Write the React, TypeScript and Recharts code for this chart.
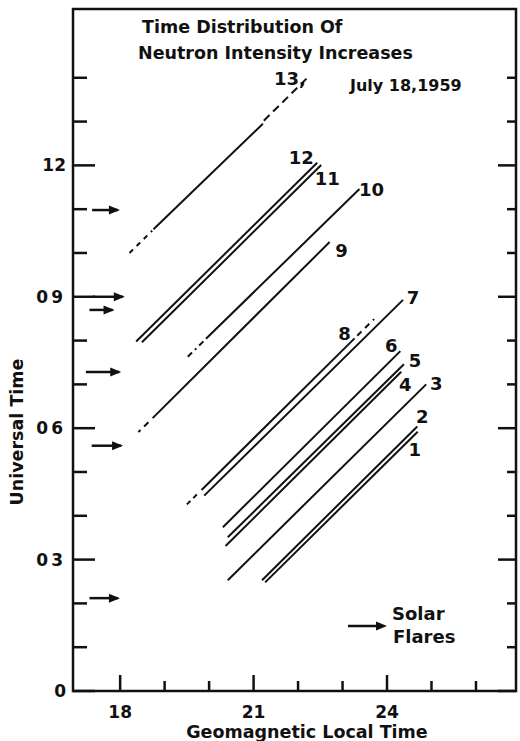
import React from 'react'
import { LineChart, Line, XAxis, YAxis, ReferenceArea } from 'recharts'

// Time distribution of neutron intensity increases, July 18, 1959.
// Each station is a line of slope 1 (UT vs geomagnetic local time),
// dashed where the onset/end is uncertain. Arrows mark solar flares.

const FONT = '"DejaVu Sans", Verdana, sans-serif'
const INK = '#111'

// solid part of each station line (local time, universal time)
const STATION_LABELS = ['1', '2', '3', '4', '5', '6', '7', '8', '9', '10', '11', '12', '13,']
const START_LT = [21.26, 21.19, 20.42, 20.37, 20.42, 20.31, 19.89, 19.83, 18.73, 19.93, 18.49, 18.36, 18.75]
const START_UT = [2.48, 2.53, 2.53, 3.31, 3.51, 3.74, 4.46, 4.59, 6.23, 8.04, 7.96, 7.98, 10.54]
const END_LT = [24.69, 24.68, 24.88, 24.32, 24.38, 24.3, 24.36, 23.27, 22.71, 23.38, 22.52, 22.43, 21.21]
const END_UT = [5.92, 6.04, 7.0, 7.29, 7.46, 7.76, 8.93, 8.05, 10.25, 11.46, 12.01, 12.06, 12.95]

// dashed (uncertain) extensions
const DASH_FROM_LT = [19.5, 23.33, 18.41, 19.52, 18.21, 21.23]
const DASH_FROM_UT = [4.26, 8.11, 5.91, 7.63, 10.0, 13.02]
const DASH_TO_LT = [19.78, 23.71, 18.68, 19.9, 18.72, 22.26]
const DASH_TO_UT = [4.54, 8.49, 6.18, 8.01, 10.51, 14.05]

// solar flares
const FLARE_UT = [10.98, 9.0, 8.7, 7.28, 5.6, 2.12]
const FLARE_TAIL_LT = [17.37, 17.38, 17.31, 17.23, 17.36, 17.31]
const FLARE_TIP_LT = [17.95, 18.06, 17.83, 17.98, 18.02, 17.95]

const X_TICKS = [18, 19, 20, 21, 22, 23, 24, 25, 26]
const X_MAJOR = [18, 21, 24]
const Y_TICKS = [0, 1, 2, 3, 4, 5, 6, 7, 8, 9, 10, 11, 12, 13, 14]
const Y_TICK_LABELS: Record<number, string> = { 0: '0', 3: '03', 6: '06', 9: '09', 12: '12' }

const X_DOMAIN: [number, number] = [16.94, 26.9]
const Y_DOMAIN: [number, number] = [0, 15.57]

// label placement relative to the end of the solid line (px)
const LABEL_OFFSET: [number, number][] = [
  [-3, 17], [5, -10], [10, -1], [4, 12], [11, -4], [-9, -6], [10, -3],
  [-10, -5], [12, 8], [12, 0], [6, 13], [-16, -6], [27, -46],
]
const DASH_PATTERN = ['5 4', '6 5', '3 5 6 4', '6 4 2 4', '5 5', '8 5']

const textStyle = { fontFamily: FONT, fontWeight: 700, fill: INK }

const XTick = (props: any) => {
  const { x, y, payload } = props
  const major = X_MAJOR.includes(payload.value)
  return (
    <g>
      <line x1={x} x2={x} y1={y} y2={y - (major ? 16 : 10)} stroke={INK} strokeWidth={2.5} />
      {major && (
        <text x={x} y={y + 27} textAnchor="middle" fontSize={17} style={textStyle}>
          {payload.value}
        </text>
      )}
    </g>
  )
}

const YTickLeft = (props: any) => {
  const { x, y, payload } = props
  const label = Y_TICK_LABELS[payload.value]
  return (
    <g>
      <line x1={x} x2={x + (label ? 22 : 14)} y1={y} y2={y} stroke={INK} strokeWidth={2.5} />
      {label && (
        <text x={x - 7} y={y + 6} textAnchor="end" fontSize={17} letterSpacing={label.length > 1 && label[0] === '0' ? 3 : 0} style={textStyle}>
          {label}
        </text>
      )}
    </g>
  )
}

const YTickRight = (props: any) => {
  const { x, y, payload } = props
  const major = Y_TICK_LABELS[payload.value] !== undefined
  return <line x1={x} x2={x - (major ? 18 : 9)} y1={y} y2={y} stroke={INK} strokeWidth={2.5} />
}

const arrowDot = (p: any) =>
  p.index === 1 ? (
    <path key={p.key} d={`M${p.cx + 2},${p.cy} L${p.cx - 9},${p.cy - 4.5} L${p.cx - 9},${p.cy + 4.5} Z`} fill={INK} />
  ) : (
    <g key={p.key} />
  )

const labelDot = (i: number) => (p: any) =>
  p.index === 1 ? (
    <text
      key={p.key}
      x={p.cx + LABEL_OFFSET[i][0]}
      y={p.cy + LABEL_OFFSET[i][1] + 7}
      textAnchor="middle"
      fontSize={18}
      style={textStyle}
    >
      {STATION_LABELS[i]}
    </text>
  ) : (
    <g key={p.key} />
  )

export default function App() {
  return (
    <div style={{ position: 'absolute', left: 0, top: 0, width: 520, height: 741, background: '#fff' }}>
      <LineChart width={520} height={741} margin={{ top: 9, right: 0, bottom: 0, left: 0 }}>
        <XAxis
          type="number"
          dataKey="lt"
          domain={X_DOMAIN}
          ticks={X_TICKS}
          interval={0}
          allowDataOverflow
          height={50}
          tickSize={0}
          tickMargin={0}
          tickLine={false}
          axisLine={false}
          tick={XTick}
        />
        <YAxis
          type="number"
          domain={Y_DOMAIN}
          ticks={Y_TICKS}
          interval={0}
          allowDataOverflow
          width={73}
          tickSize={0}
          tickMargin={0}
          tickLine={false}
          axisLine={false}
          tick={YTickLeft}
        />
        <YAxis
          yAxisId="r"
          orientation="right"
          type="number"
          domain={Y_DOMAIN}
          ticks={Y_TICKS}
          interval={0}
          allowDataOverflow
          width={4}
          tickSize={0}
          tickMargin={0}
          tickLine={false}
          axisLine={false}
          tick={YTickRight}
        />
        <ReferenceArea
          x1={X_DOMAIN[0]}
          x2={X_DOMAIN[1]}
          y1={Y_DOMAIN[0]}
          y2={Y_DOMAIN[1]}
          fill="none"
          fillOpacity={0}
          stroke={INK}
          strokeWidth={2.5}
          ifOverflow="visible"
        />

        {STATION_LABELS.map((_, i) => (
          <Line
            key={`s${i}`}
            data={[
              { lt: START_LT[i], ut: START_UT[i] },
              { lt: END_LT[i], ut: END_UT[i] },
            ]}
            dataKey="ut"
            stroke={INK}
            strokeWidth={2}
            dot={labelDot(i)}
            activeDot={false}
            isAnimationActive={false}
          />
        ))}
        {DASH_FROM_LT.map((_, i) => (
          <Line
            key={`d${i}`}
            data={[
              { lt: DASH_FROM_LT[i], ut: DASH_FROM_UT[i] },
              { lt: DASH_TO_LT[i], ut: DASH_TO_UT[i] },
            ]}
            dataKey="ut"
            stroke={INK}
            strokeWidth={2}
            strokeDasharray={DASH_PATTERN[i]}
            dot={false}
            activeDot={false}
            isAnimationActive={false}
          />
        ))}
        {FLARE_UT.map((ut, i) => (
          <Line
            key={`f${i}`}
            data={[
              { lt: FLARE_TAIL_LT[i], ut },
              { lt: FLARE_TIP_LT[i], ut },
            ]}
            dataKey="ut"
            stroke={INK}
            strokeWidth={2.5}
            dot={arrowDot}
            activeDot={false}
            isAnimationActive={false}
          />
        ))}

        <text x={142} y={33} fontSize={17.5} style={textStyle}>Time Distribution Of</text>
        <text x={138} y={59} fontSize={17.5} style={textStyle}>Neutron Intensity Increases</text>
        <text x={350} y={91} fontSize={16} style={textStyle}>July 18,1959</text>

        <line x1={348} x2={376} y1={626} y2={626} stroke={INK} strokeWidth={2.5} />
        <path d="M387,626 L376,621.5 L376,630.5 Z" fill={INK} />
        <text x={392} y={620} fontSize={18} style={textStyle}>Solar</text>
        <text x={393} y={643} fontSize={18} style={textStyle}>Flares</text>

        <text transform="translate(23,432) rotate(-90)" textAnchor="middle" fontSize={17.5} style={textStyle}>
          Universal Time
        </text>
        <text x={307} y={738} textAnchor="middle" fontSize={17.5} style={textStyle}>Geomagnetic Local Time</text>
      </LineChart>
    </div>
  )
}
